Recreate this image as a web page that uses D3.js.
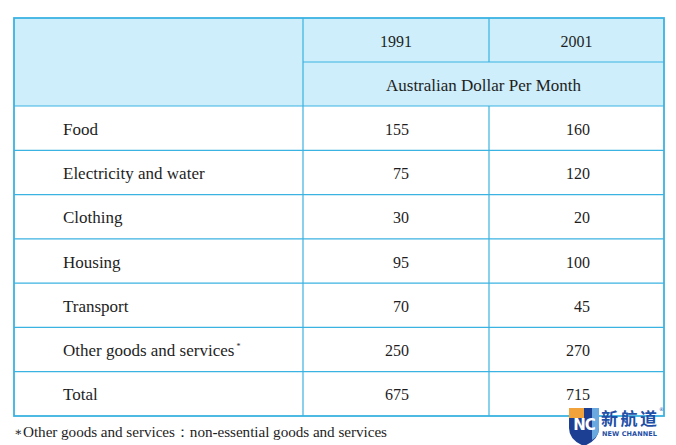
<!DOCTYPE html>
<html>
<head>
<meta charset="utf-8">
<script src="https://cdn.jsdelivr.net/npm/d3@7"></script>
<style>
html,body{margin:0;padding:0;background:#fff;}
svg{display:block;}
.serif{font-family:"Liberation Serif","Times New Roman","DejaVu Serif",serif;}
</style>
</head>
<body>
<svg id="chart" width="676" height="445"></svg>
<script>
// ---- data ----
const categories = ["Food","Electricity and water","Clothing","Housing","Transport","Other goods and services","Total"];
const years = ["1991","2001"];
const values1991 = [155,75,30,95,70,250,675];
const values2001 = [160,120,20,100,45,270,715];
const unitLabel = "Australian Dollar Per Month";
const footnoteTerm = "Other goods and services";
const footnoteText = "Other goods and services：non-essential goods and services";

// ---- layout ----
const tLeft = 14, tRight = 664, tTop = 18, headMid = 62, headBottom = 106, tBottom = 416;
const colX = [tLeft, 303, 489, tRight];
const lineColor = "#3ab3e2";
const headFill = "#cdeefa";
const textColor = "#1e1e1e";

const svg = d3.select("#chart");

// scales
const yScale = d3.scaleBand().domain(categories).range([headBottom, tBottom]).padding(0);
const colScale = d3.scaleOrdinal().domain(years).range([[colX[1], colX[2]], [colX[2], colX[3]]]);

// header background
svg.append("rect").attr("x", tLeft).attr("y", tTop).attr("width", tRight-tLeft).attr("height", headBottom-tTop).attr("fill", headFill);

// grid lines
const g = svg.append("g").attr("stroke", lineColor).attr("stroke-width", 1.2);
g.selectAll("line.row").data(categories.slice(1)).join("line")
  .attr("x1", tLeft).attr("x2", tRight)
  .attr("y1", d => yScale(d)).attr("y2", d => yScale(d));
g.append("line").attr("x1", tLeft).attr("x2", tRight).attr("y1", headBottom).attr("y2", headBottom);
g.append("line").attr("x1", colX[1]).attr("x2", tRight).attr("y1", headMid).attr("y2", headMid);
g.append("line").attr("x1", colX[1]).attr("x2", colX[1]).attr("y1", tTop).attr("y2", tBottom);
g.append("line").attr("x1", colX[2]).attr("x2", colX[2]).attr("y1", tTop).attr("y2", headMid);
g.append("line").attr("x1", colX[2]).attr("x2", colX[2]).attr("y1", headBottom).attr("y2", tBottom);
// outer border
svg.append("rect").attr("x", tLeft).attr("y", tTop).attr("width", tRight-tLeft).attr("height", tBottom-tTop)
  .attr("fill", "none").attr("stroke", lineColor).attr("stroke-width", 1.8);

// header texts
svg.selectAll("text.year").data(years).join("text")
  .attr("class","year serif")
  .attr("x", d => (colScale(d)[0] + colScale(d)[1]) / 2)
  .attr("y", (tTop + headMid) / 2 + 6.5)
  .attr("text-anchor","middle")
  .style("font-size", "16px").attr("fill", textColor)
  .text(d => d);
svg.append("text").attr("class","serif")
  .attr("x", (colX[1] + tRight) / 2)
  .attr("y", (headMid + headBottom) / 2 + 6.5)
  .attr("text-anchor","middle")
  .style("font-size", "17px").attr("fill", textColor)
  .text(unitLabel);

// category labels
const labels = svg.selectAll("text.cat").data(categories).join("text")
  .attr("class","cat serif")
  .attr("x", 63)
  .attr("y", d => yScale(d) + yScale.bandwidth()/2 + 6.5)
  .style("font-size", "17px").attr("fill", textColor);
labels.append("tspan").text(d => d);
labels.filter(d => d === footnoteTerm).append("tspan")
  .attr("dx", 2).attr("dy", -7).style("font-size", "8px").text("*");

// values
const rightEdge = {"1991": 409, "2001": 590};
[[values1991, "1991"], [values2001, "2001"]].forEach(([vals, yr]) => {
  svg.selectAll("text.v" + yr).data(vals).join("text")
    .attr("class", "v" + yr + " serif")
    .attr("x", rightEdge[yr])
    .attr("y", (d, i) => yScale(categories[i]) + yScale.bandwidth()/2 + 6.5)
    .attr("text-anchor","end")
    .style("font-size", "16px").attr("fill", textColor)
    .text(d => d);
});

// footnote
svg.append("text").attr("class","serif").attr("x", 14).attr("y", 436)
  .style("font-size", "12px").attr("fill", textColor).text("∗");
svg.append("text").attr("class","serif").attr("x", 23).attr("y", 437)
  .style("font-size", "15.2px").attr("fill", textColor)
  .attr("textLength", 364).attr("lengthAdjust", "spacing")
  .text(footnoteText);

// logo
const logo = svg.append("g").attr("transform", "translate(568,406)");
logo.append("path")
  .attr("d", "M1,2 L31,2 L31,22 Q31,34 16,40 Q1,34 1,22 Z")
  .attr("fill", "#1d3f93");
logo.append("path").attr("d", "M1,2 L16,2 L16,12 L1,12 Z").attr("fill", "#f2a23a");
logo.append("path").attr("d", "M24,2 L31,2 L31,22 Q31,30 24,34 Z").attr("fill", "#6aa9e0");
logo.append("text").attr("x", 16).attr("y", 24).attr("text-anchor","middle")
  .style("font-family","'DejaVu Sans',sans-serif").style("font-weight","bold").style("font-size", "15px")
  .attr("fill","#fff").attr("letter-spacing", -1).text("NC");
logo.append("text").attr("x", 33).attr("y", 19)
  .style("font-family","'Noto Sans CJK SC',sans-serif").style("font-size", "17px").style("font-weight","bold")
  .attr("fill","#1f4fa6").attr("textLength", 56).text("新航道");
logo.append("text").attr("x", 34).attr("y", 29.5)
  .style("font-family","'DejaVu Sans',sans-serif").style("font-weight","bold").style("font-size", "6.5px")
  .attr("fill","#1f4fa6").attr("textLength", 55).text("NEW CHANNEL");
logo.append("text").attr("x", 91).attr("y", 5)
  .style("font-family","'DejaVu Sans',sans-serif").style("font-size", "5px").attr("fill","#1f4fa6").text("®");
</script>
</body>
</html>
